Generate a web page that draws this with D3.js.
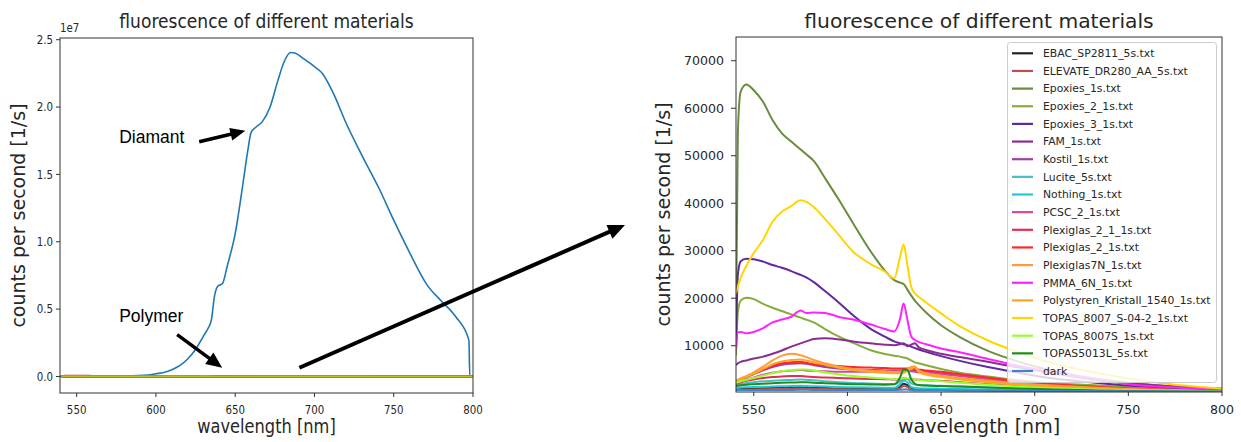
<!DOCTYPE html>
<html><head><meta charset="utf-8">
<script src="https://cdn.jsdelivr.net/npm/d3@7"></script>
<style>
html,body{margin:0;padding:0;background:#fff;}
svg{display:block;}
text{font-family:"DejaVu Sans",sans-serif;fill:#262626;}
</style></head>
<body>
<svg id="c" width="1241" height="442"></svg>
<script>
// ---------------- DATA ----------------
const diamWl  = [539.5,560,580,595,600,605,610,615,620,625,630,633,635,637,639,642,645,650,655,658,660,663,667,672,677,681,685,688,693,700,705,712,720,730,741,750,760,771,780,789,797.4,798,800];
const diamVal = [0.001e7,0.002e7,0.004e7,0.01e7,0.02e7,0.03e7,0.05e7,0.08e7,0.13e7,0.2e7,0.3e7,0.36e7,0.42e7,0.6e7,0.67e7,0.69e7,0.82e7,1.06e7,1.44e7,1.68e7,1.81e7,1.85e7,1.89e7,2.0e7,2.2e7,2.34e7,2.405e7,2.40e7,2.36e7,2.30e7,2.25e7,2.10e7,1.88e7,1.64e7,1.39e7,1.16e7,0.92e7,0.68e7,0.56e7,0.445e7,0.27e7,0,0];

const wl = [540.5,541.5,543,546,550,555,560,565,570,575,578,582,588,595,603,612,620,625,628,630,632,634,636,638,642,650,660,675,690,710,730,750,775,800];

const seriesNames = ["EBAC_SP2811_5s.txt","ELEVATE_DR280_AA_5s.txt","Epoxies_1s.txt","Epoxies_2_1s.txt","Epoxies_3_1s.txt","FAM_1s.txt","Kostil_1s.txt","Lucite_5s.txt","Nothing_1s.txt","PCSC_2_1s.txt","Plexiglas_2_1_1s.txt","Plexiglas_2_1s.txt","Plexiglas7N_1s.txt","PMMA_6N_1s.txt","Polystyren_Kristall_1540_1s.txt","TOPAS_8007_S-04-2_1s.txt","TOPAS_8007S_1s.txt","TOPAS5013L_5s.txt","dark"];
const seriesColors = ["#222222","#c0504d","#6b8c3e","#86ac3c","#5e2a9e","#8a2d92","#a43ca8","#45bfbf","#1fcad8","#d4489a","#e0304e","#ff2828","#ff9a40","#ff22ff","#ffa51e","#ffd500","#98ff2e","#1f8c22","#3f84c4"];

const vEBAC     = [800,850,900,950,1000,1050,1100,1150,1200,1250,1200,1150,1100,1050,1000,950,900,900,1300,2000,1700,1000,850,800,780,750,700,620,550,480,420,360,320,280];
const vELEVATE  = [650,680,700,750,800,830,860,900,950,1000,950,900,870,830,800,780,760,760,1000,1500,1300,800,720,700,680,650,600,550,500,440,390,340,300,270];
const vEpox1    = [15000,55000,63500,65000,63800,61300,57500,54700,53000,51300,50300,48900,45300,41000,35800,30100,25800,23800,23300,23000,21800,20600,19500,18600,17000,14300,11800,8900,6800,4700,3200,2200,1400,800];
const vEpox2    = [8000,17000,19500,20100,19800,18800,18000,17300,16600,15900,15500,14900,13500,12000,10600,9100,8250,7900,7700,7500,7300,6900,6500,6300,5900,5100,4300,3500,2800,2100,1700,1300,950,650];
const vEpox3    = [10000,25000,27800,28300,28200,27700,27000,26400,25700,24900,24400,23400,21500,19200,16400,13650,11900,10900,10500,10300,10100,9800,9500,9200,8700,7800,6800,5500,4400,3100,2300,1600,1100,650];
const vFAM      = [5900,6300,6600,6900,7300,7700,8300,9000,9800,10500,10900,11400,11550,11350,10900,10500,10200,10100,10300,10500,9900,10200,10500,9700,9100,8300,7600,6600,5500,4200,2900,2100,1400,1000];
const vKostil   = [2300,2500,2800,3300,4000,4800,5500,6000,6200,6300,6200,5900,5500,5200,5000,4900,4800,4800,4800,4900,4900,4800,4700,4600,4500,4200,3700,3000,2400,1800,1300,900,650,450];
const vLucite   = [1700,1800,1900,2100,2300,2500,2600,2700,2800,2900,2850,2700,2500,2300,2150,2050,1950,1900,2400,3200,3000,2100,1800,1700,1650,1550,1400,1200,1000,800,600,450,350,280];
const vNothing  = [1100,1150,1200,1250,1300,1350,1400,1450,1500,1550,1500,1450,1400,1300,1250,1200,1150,1150,1800,2600,2300,1300,1100,1050,1000,950,900,800,700,600,480,400,330,280];
const vPCSC     = [2100,2200,2400,2800,3300,3900,4300,4600,4800,4900,4800,4700,4600,4500,4500,4500,4500,4500,4600,4700,4700,4600,4500,4400,4300,4000,3600,2900,2300,1700,1200,850,600,400];
const vPlex21   = [2000,2100,2300,2600,2900,3200,3400,3500,3600,3600,3500,3400,3300,3200,3100,3000,2950,2900,2900,2950,3000,2950,2900,2850,2750,2600,2300,1900,1600,1200,900,700,500,350];
const vPlex2    = [2600,2700,3000,3500,4200,5000,5800,6300,6500,6600,6400,6100,5900,5700,5500,5400,5300,5200,5200,5200,5200,5200,5100,5000,4800,4500,4000,3300,2600,1900,1400,1000,700,450];
const vPlex7N   = [2600,2800,3100,3600,4400,5600,6900,7900,8300,8000,7600,7000,6300,5600,5100,4800,4600,4500,4500,4600,5000,5500,5600,4800,4200,3700,3200,2600,2100,1600,1200,900,650,450];
const vPMMA     = [9500,12800,12900,12600,12900,13700,14900,15500,16100,17400,16900,17000,16900,16100,15500,14500,13500,13000,15500,18900,15500,12000,11200,10800,10300,9400,8600,7200,5900,4400,3100,1900,1200,800];
const vPolyst   = [2500,2600,2900,3400,4100,5100,6100,6700,7000,7100,6900,6500,6000,5400,4900,4500,4300,4200,4200,4300,4700,5200,5400,4500,3900,3400,2900,2300,1800,1300,1000,750,550,400];
const vTopasS04 = [21000,22500,24300,26800,29500,32300,36100,38200,39400,40600,40300,39200,36700,33500,29800,27300,25600,24200,28500,31300,27000,22500,21000,20300,19100,16800,14100,11100,8800,6300,4500,3100,1800,1000];
const vTopas7S  = [2200,2300,2500,2800,3200,3700,4200,4600,4900,5000,5000,4800,4400,4000,3600,3300,3100,3000,3000,3100,3100,3000,2900,2800,2700,2500,2200,1800,1400,1050,800,600,450,350];
const vTopas5013= [1500,1550,1650,1800,1900,2000,2100,2200,2250,2300,2300,2200,2100,2000,1900,1850,1800,1900,3200,5000,4900,3000,2000,1700,1600,1500,1400,1200,1000,800,600,450,350,280];
const vDark     = [650,650,660,660,670,670,680,680,690,700,700,690,680,670,660,650,650,650,700,800,750,660,640,630,620,600,580,550,520,480,440,400,360,330];

const seriesValues = [vEBAC,vELEVATE,vEpox1,vEpox2,vEpox3,vFAM,vKostil,vLucite,vNothing,vPCSC,vPlex21,vPlex2,vPlex7N,vPMMA,vPolyst,vTopasS04,vTopas7S,vTopas5013,vDark];

const leftYTicks  = [0,0.5e7,1.0e7,1.5e7,2.0e7,2.5e7];
const leftYLabels = ["0.0","0.5","1.0","1.5","2.0","2.5"];
const xTicks      = [550,600,650,700,750,800];
const rightYTicks = [10000,20000,30000,40000,50000,60000,70000];

const titleText = "fluorescence of different materials";
const xLabel = "wavelength [nm]";
const yLabel = "counts per second [1/s]";
const tab10 = d3.schemeCategory10;

// ---------------- DRAW ----------------
const svg = d3.select("#c");
const SX = 0.855; // horizontal squish of left image

function sqText(g, x, y, str, size, anchor) {
  return g.append("text")
    .attr("transform", `translate(${x},${y}) scale(${SX},1)`)
    .attr("text-anchor", anchor).style("font-size", size + "px").text(str);
}

// ===== LEFT CHART =====
const L = {l:60, r:473, t:38, b:393};
const lx = d3.scaleLinear().domain([539.5, 800]).range([L.l, L.r]);
const ly = d3.scaleLinear().domain([-0.1227e7, 2.5127e7]).range([L.b, L.t]);
const gL = svg.append("g");
const lineL = d3.line().x(d => lx(d[0])).y(d => ly(d[1])).curve(d3.curveMonotoneX);

gL.append("defs").append("clipPath").attr("id","clipL").append("rect")
  .attr("x",L.l).attr("y",L.t).attr("width",L.r-L.l).attr("height",L.b-L.t);
const plotL = gL.append("g").attr("clip-path","url(#clipL)");
plotL.append("path").datum(d3.zip(diamWl, diamVal)).attr("d", lineL)
  .attr("fill","none").attr("stroke",tab10[0]).attr("stroke-width",1.6);
seriesValues.slice(0,18).forEach((vals,i) => {
  plotL.append("path").datum(d3.zip(wl, vals)).attr("d", lineL)
    .attr("fill","none").attr("stroke",tab10[(i+1)%10]).attr("stroke-width",1.6);
});
gL.append("rect").attr("x",L.l).attr("y",L.t).attr("width",L.r-L.l).attr("height",L.b-L.t)
  .attr("fill","none").attr("stroke","#333").attr("stroke-width",1);
xTicks.forEach(v => {
  gL.append("line").attr("x1",lx(v)).attr("x2",lx(v)).attr("y1",L.b).attr("y2",L.b+4).attr("stroke","#333");
  sqText(gL, lx(v), L.b+20.5, String(v), 12, "middle");
});
leftYTicks.forEach((v,i) => {
  gL.append("line").attr("x1",L.l-4).attr("x2",L.l).attr("y1",ly(v)).attr("y2",ly(v)).attr("stroke","#333");
  sqText(gL, L.l-7, ly(v)+4.3, leftYLabels[i], 12, "end");
});
sqText(gL, L.l, L.t-6, "1e7", 12, "start");
sqText(gL, (L.l+L.r)/2, 28, titleText, 20, "middle");
sqText(gL, (L.l+L.r)/2, 433, xLabel, 19, "middle");
gL.append("text").attr("transform", `translate(25,${(L.t+L.b)/2}) rotate(-90)`)
  .attr("text-anchor","middle").style("font-size","19px").text(yLabel);

// annotations
function arrow(g, x1, y1, x2, y2, lw, hl, hw) {
  const ang = Math.atan2(y2-y1, x2-x1);
  const bx = x2 - hl*Math.cos(ang), by = y2 - hl*Math.sin(ang);
  g.append("line").attr("x1",x1).attr("y1",y1).attr("x2",bx+Math.cos(ang)).attr("y2",by+Math.sin(ang))
    .attr("stroke","#000").attr("stroke-width",lw);
  const px = -Math.sin(ang)*hw/2, py = Math.cos(ang)*hw/2;
  g.append("polygon").attr("points", `${x2},${y2} ${bx+px},${by+py} ${bx-px},${by-py}`).attr("fill","#000");
}
const annFont = "'Liberation Sans', Arial, sans-serif";
gL.append("text").attr("x", lx(576.8)).attr("y", ly(1.735e7)).style("font-family",annFont).style("font-size","17.5px").style("fill","#000").text("Diamant");
arrow(gL, lx(627.3), ly(1.742e7), lx(656.4), ly(1.824e7), 3.5, 15, 13);
gL.append("text").attr("x", lx(576.8)).attr("y", ly(0.406e7)).style("font-family",annFont).style("font-size","17.5px").style("fill","#000").text("Polymer");
arrow(gL, lx(613.4), ly(0.31e7), lx(641.8), ly(0.065e7), 3.5, 16, 14);
arrow(svg, lx(690.5), ly(0.065e7), 625, 225, 4, 17, 15);

// ===== RIGHT CHART =====
const R = {l:736, r:1222, t:37, b:392};
const rx = d3.scaleLinear().domain([540.5, 800]).range([R.l, R.r]);
const ry = d3.scaleLinear().domain([250, 75000]).range([R.b, R.t]);
const gR = svg.append("g");
gR.append("defs").append("clipPath").attr("id","clipR").append("rect")
  .attr("x",R.l).attr("y",R.t).attr("width",R.r-R.l).attr("height",R.b-R.t);
const plotR = gR.append("g").attr("clip-path","url(#clipR)");
const lineR = d3.line().x(d => rx(d[0])).y(d => ry(d[1])).curve(d3.curveMonotoneX);
seriesValues.forEach((vals,i) => {
  plotR.append("path").datum(d3.zip(wl, vals)).attr("d", lineR)
    .attr("fill","none").attr("stroke",seriesColors[i]).attr("stroke-width",2);
});
gR.append("rect").attr("x",R.l).attr("y",R.t).attr("width",R.r-R.l).attr("height",R.b-R.t)
  .attr("fill","none").attr("stroke","#333").attr("stroke-width",1);
xTicks.forEach(v => {
  gR.append("line").attr("x1",rx(v)).attr("x2",rx(v)).attr("y1",R.b).attr("y2",R.b+4).attr("stroke","#333");
  gR.append("text").attr("x",rx(v)).attr("y",R.b+21.5).attr("text-anchor","middle").style("font-size","12.6px").text(v);
});
rightYTicks.forEach(v => {
  gR.append("line").attr("x1",R.l-5).attr("x2",R.l).attr("y1",ry(v)).attr("y2",ry(v)).attr("stroke","#333");
  gR.append("text").attr("x",R.l-12).attr("y",ry(v)+4.5).attr("text-anchor","end").style("font-size","12.6px").text(v);
});
gR.append("text").attr("x",(R.l+R.r)/2).attr("y",28).attr("text-anchor","middle").style("font-size","20.3px").text(titleText);
gR.append("text").attr("x",(R.l+R.r)/2).attr("y",433).attr("text-anchor","middle").style("font-size","19px").text(xLabel);
gR.append("text").attr("transform", `translate(670,${(R.t+R.b)/2}) rotate(-90)`)
  .attr("text-anchor","middle").style("font-size","19px").text(yLabel);

// legend
const leg = gR.append("g");
leg.append("rect").attr("x",1007.5).attr("y",42.5).attr("width",209).attr("height",340).attr("rx",3)
  .attr("fill","#fff").attr("fill-opacity",0.8).attr("stroke","#ccc").attr("stroke-width",1);
seriesNames.forEach((n,i) => {
  const y = 53.3 + i*17.65;
  leg.append("line").attr("x1",1012).attr("x2",1033).attr("y1",y).attr("y2",y)
    .attr("stroke",seriesColors[i]).attr("stroke-width",2.2);
  leg.append("text").attr("x",1043).attr("y",y+3.8).style("font-size","10.8px").text(n);
});
</script>
</body></html>
